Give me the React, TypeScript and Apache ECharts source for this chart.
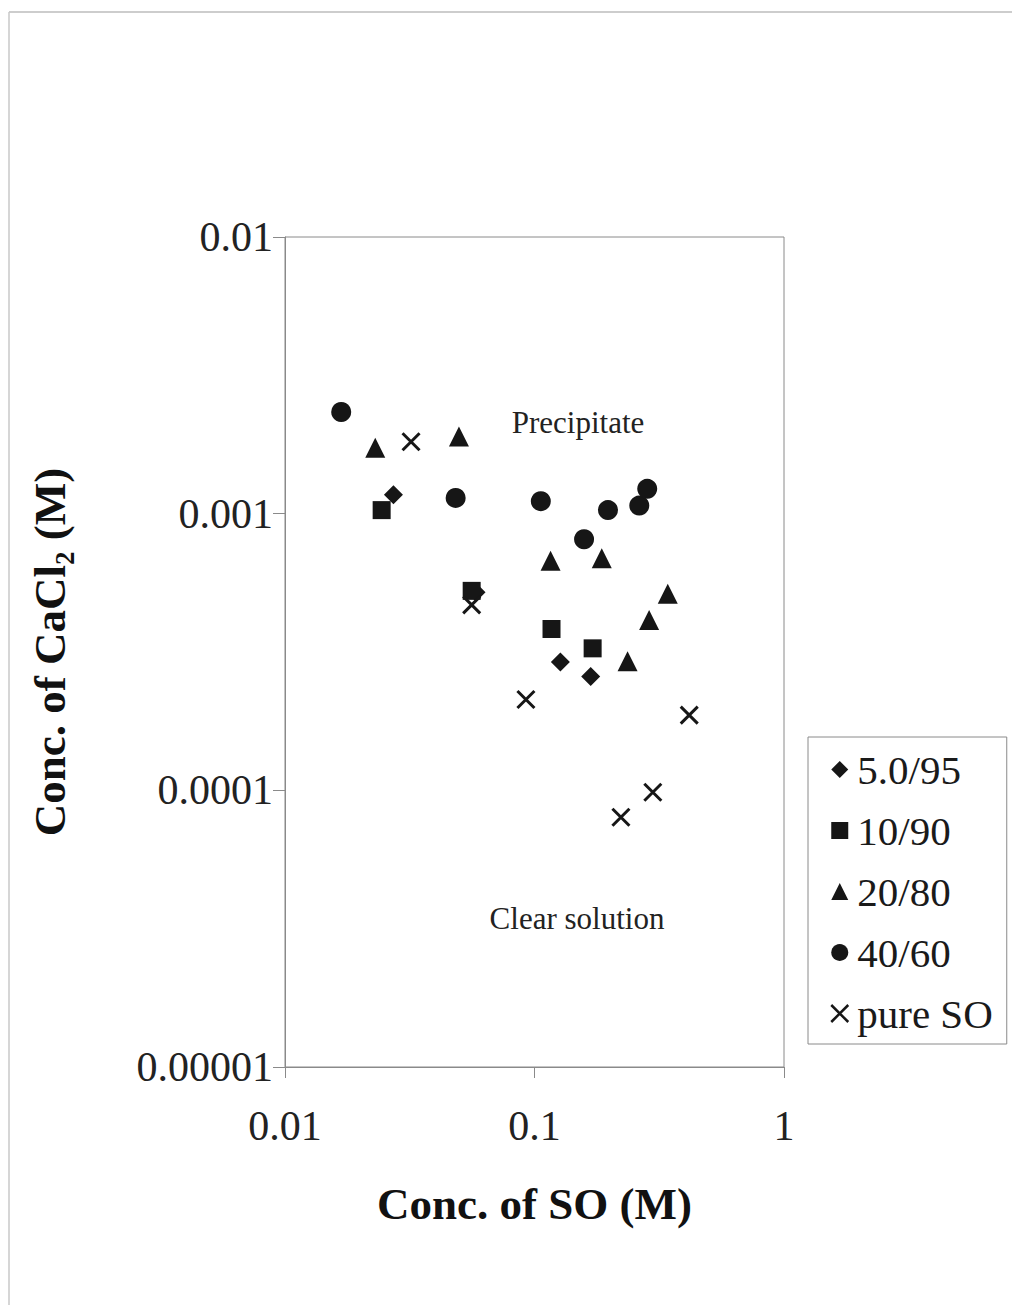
import React, { useEffect, useRef } from 'react';
import * as echarts from 'echarts';

// Series data: [Conc. of SO (M), Conc. of CaCl2 (M)]
const seriesNames = ['5.0/95', '10/90', '20/80', '40/60', 'pure SO'];
const data5_95 = [[0.0272, 0.00117], [0.0583, 0.00052], [0.127, 0.000291], [0.168, 0.000258]];
const data10_90 = [[0.0244, 0.00103], [0.056, 0.000526], [0.117, 0.000383], [0.171, 0.000326]];
const data20_80 = [[0.023, 0.00173], [0.0498, 0.0019], [0.116, 0.000676], [0.186, 0.00069], [0.342, 0.000513], [0.288, 0.000413], [0.236, 0.000293]];
const data40_60 = [[0.0168, 0.00233], [0.0483, 0.00114], [0.106, 0.00111], [0.197, 0.00103], [0.263, 0.00107], [0.283, 0.00123], [0.158, 0.000808]];
const dataPure = [[0.032, 0.00182], [0.056, 0.000468], [0.0924, 0.000213], [0.417, 0.000187], [0.298, 0.0000984], [0.222, 0.0000799]];

const xTicks = [0.01, 0.1, 1];
const yTicks = [0.00001, 0.0001, 0.001, 0.01];

const FONT = '"Liberation Serif", "Times New Roman", serif';
const INK = '#161616';
const CROSS = 'path://M0,0L10,10M10,0L0,10';

function fmt(v: number) {
  const d = Math.max(0, -Math.round(Math.log10(v)));
  return v.toFixed(d);
}

export default function App() {
  const ref = useRef<HTMLDivElement>(null);
  useEffect(() => {
    document.body.style.margin = '0';
    const chart = echarts.init(ref.current!, null, { renderer: 'svg' });
    const mk = (name: string, data: number[][], symbol: string, size: number, extra: any = {}) => ({
      name,
      type: 'scatter',
      data,
      symbol,
      symbolSize: size,
      itemStyle: { color: INK, opacity: 1, ...extra },
      emphasis: { disabled: true },
    });
    chart.setOption({
      animation: false,
      backgroundColor: '#ffffff',
      textStyle: { fontFamily: FONT },
      grid: { left: 285, top: 237, width: 499, height: 830, show: true, borderColor: '#8a8a8a', borderWidth: 1 },
      xAxis: {
        type: 'log',
        logBase: 10,
        min: xTicks[0],
        max: xTicks[xTicks.length - 1],
        name: 'Conc. of SO (M)',
        nameLocation: 'middle',
        nameGap: 114,
        nameTextStyle: { fontFamily: FONT, fontSize: 45, fontWeight: 'bold', color: '#111' },
        axisLine: { lineStyle: { color: '#8a8a8a', width: 1 } },
        axisTick: { show: true, length: 11, inside: false, lineStyle: { color: '#8a8a8a' } },
        minorTick: { show: false },
        splitLine: { show: false },
        axisLabel: { fontFamily: FONT, fontSize: 42, color: '#222', margin: 38, formatter: (v: number) => fmt(v) },
      },
      yAxis: {
        type: 'log',
        logBase: 10,
        min: yTicks[0],
        max: yTicks[yTicks.length - 1],
        name: 'Conc. of CaCl₂ (M)',
        nameLocation: 'middle',
        nameGap: 213,
        nameTextStyle: { fontFamily: FONT, fontSize: 45, fontWeight: 'bold', color: '#111' },
        axisLine: { lineStyle: { color: '#8a8a8a', width: 1 } },
        axisTick: { show: true, length: 12, inside: false, lineStyle: { color: '#8a8a8a' } },
        minorTick: { show: false },
        splitLine: { show: false },
        axisLabel: { fontFamily: FONT, fontSize: 42, color: '#222', margin: 12, formatter: (v: number) => fmt(v) },
      },
      legend: {
        orient: 'vertical',
        left: 808,
        top: 737,
        padding: [12, 14, 10, 22],
        itemGap: 20,
        itemWidth: 17,
        itemHeight: 17,
        borderColor: '#8a8a8a',
        borderWidth: 1,
        borderRadius: 0,
        textStyle: { fontFamily: FONT, fontSize: 41, color: '#1a1a1a', lineHeight: 41, padding: [0, 0, 0, 4] },
        data: [
          seriesNames[0],
          seriesNames[1],
          seriesNames[2],
          seriesNames[3],
          { name: seriesNames[4], itemStyle: { color: 'transparent', borderColor: INK, borderWidth: 2.5 } },
        ],
      },
      series: [
        mk(seriesNames[0], data5_95, 'diamond', 19),
        mk(seriesNames[1], data10_90, 'rect', 18),
        mk(seriesNames[2], data20_80, 'triangle', 20),
        mk(seriesNames[3], data40_60, 'circle', 20),
        mk(seriesNames[4], dataPure, CROSS, 17, { color: 'transparent', borderColor: INK, borderWidth: 3 }),
      ],
      graphic: [
        { type: 'line', shape: { x1: 9, y1: 12, x2: 1012, y2: 12 }, style: { stroke: '#bdbdbd', lineWidth: 1.5 } },
        { type: 'line', shape: { x1: 9, y1: 12, x2: 9, y2: 1305 }, style: { stroke: '#c8c8c8', lineWidth: 1.5 } },
        { type: 'text', x: 578, y: 422, style: { text: 'Precipitate', fontFamily: FONT, fontSize: 31, fill: '#222', textAlign: 'center', textVerticalAlign: 'middle' } },
        { type: 'text', x: 577, y: 918, style: { text: 'Clear solution', fontFamily: FONT, fontSize: 31, fill: '#222', textAlign: 'center', textVerticalAlign: 'middle' } },
      ],
    });
    return () => chart.dispose();
  }, []);
  return <div ref={ref} style={{ width: 1012, height: 1305 }} />;
}
